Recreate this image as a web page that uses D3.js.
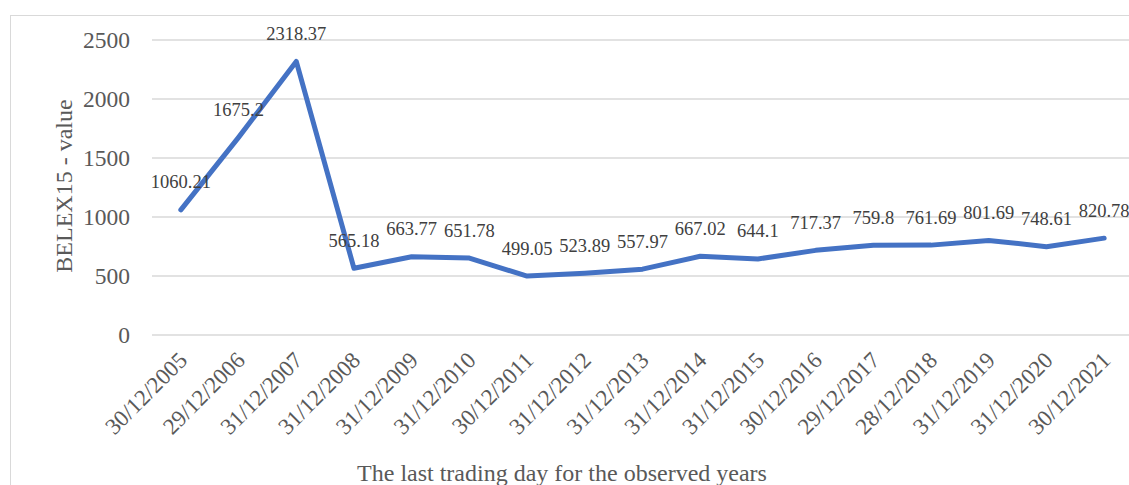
<!DOCTYPE html>
<html>
<head>
<meta charset="utf-8">
<script src="https://cdn.jsdelivr.net/npm/d3@7"></script>
<style>
  body { margin: 0; background: #fff; }
  svg { display: block; font-family: "Liberation Serif", "Times New Roman", serif; }
</style>
</head>
<body>
<svg id="chart"></svg>
<script>
const width = 1129;
const height = 485;

const dates = ["30/12/2005", "29/12/2006", "31/12/2007", "31/12/2008", "31/12/2009", "31/12/2010",
  "30/12/2011", "31/12/2012", "31/12/2013", "31/12/2014", "31/12/2015", "30/12/2016",
  "29/12/2017", "28/12/2018", "31/12/2019", "31/12/2020", "30/12/2021"];
const values = [1060.21, 1675.2, 2318.37, 565.18, 663.77, 651.78, 499.05, 523.89, 557.97,
  667.02, 644.1, 717.37, 759.8, 761.69, 801.69, 748.61, 820.78];
const yTicks = [0, 500, 1000, 1500, 2000, 2500];

const margin = { top: 40, left: 152, bottom: 150, right: -4 };

const svg = d3.select("#chart")
  .attr("width", width)
  .attr("height", height);

// outer chart frame
svg.append("rect")
  .attr("x", 10.5).attr("y", 15.5)
  .attr("width", 1140).attr("height", 500)
  .attr("fill", "none").attr("stroke", "#d9d9d9");

const x = d3.scaleBand()
  .domain(dates)
  .range([margin.left, width - margin.right]);

const y = d3.scaleLinear()
  .domain([0, 2500])
  .range([335, margin.top]);

// gridlines
svg.append("g")
  .selectAll("line")
  .data(yTicks)
  .join("line")
  .attr("x1", margin.left).attr("x2", width)
  .attr("y1", d => y(d)).attr("y2", d => y(d))
  .attr("stroke", "#d9d9d9").attr("stroke-width", 1.3);

// y tick labels
svg.append("g")
  .selectAll("text")
  .data(yTicks)
  .join("text")
  .attr("x", 130)
  .attr("y", d => y(d))
  .attr("dy", "0.35em")
  .attr("text-anchor", "end")
  .attr("font-size", 23.5)
  .attr("fill", "#595959")
  .text(d => d);

// x tick labels
svg.append("g")
  .selectAll("text")
  .data(dates)
  .join("text")
  .attr("transform", d => `translate(${x(d) + x.bandwidth() / 2 + 2},${356}) rotate(-45)`)
  .attr("text-anchor", "end")
  .attr("dy", "0.35em")
  .attr("font-size", 23)
  .attr("fill", "#595959")
  .text(d => d);

// line
const line = d3.line()
  .x((d, i) => x(dates[i]) + x.bandwidth() / 2)
  .y(d => y(d));

svg.append("path")
  .datum(values)
  .attr("d", line)
  .attr("fill", "none")
  .attr("stroke", "#4472c4")
  .attr("stroke-width", 5)
  .attr("stroke-linejoin", "round")
  .attr("stroke-linecap", "round");

// data labels
svg.append("g")
  .selectAll("text")
  .data(values)
  .join("text")
  .attr("x", (d, i) => x(dates[i]) + x.bandwidth() / 2)
  .attr("y", d => y(d) - 28)
  .attr("dy", "0.35em")
  .attr("text-anchor", "middle")
  .attr("font-size", 18.5)
  .attr("fill", "#404040")
  .text(d => d);

// axis titles
svg.append("text")
  .attr("transform", "translate(72,186) rotate(-90)")
  .attr("text-anchor", "middle")
  .attr("font-size", 24)
  .attr("fill", "#595959")
  .text("BELEX15 - value");

svg.append("text")
  .attr("x", 562)
  .attr("y", 481)
  .attr("text-anchor", "middle")
  .attr("font-size", 24)
  .attr("fill", "#595959")
  .text("The last trading day for the observed years");
</script>
</body>
</html>
